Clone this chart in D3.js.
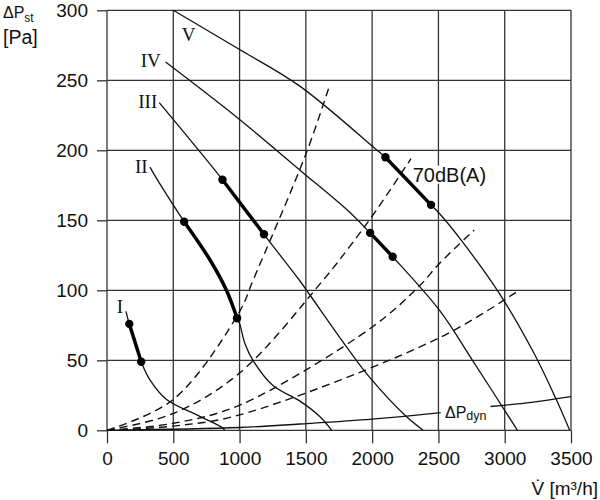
<!DOCTYPE html>
<html>
<head>
<meta charset="utf-8">
<script src="https://cdn.jsdelivr.net/npm/d3@7"></script>
<style>
  body { margin: 0; background: #fff; }
</style>
</head>
<body>
<svg id="chart" width="600" height="500"></svg>
<script>
// tick values
const xTicks = [0, 500, 1000, 1500, 2000, 2500, 3000, 3500];
const yTicks = [0, 50, 100, 150, 200, 250, 300];

// fan curves [V m3/h, dP Pa]
const fanI = [[143, 85], [168, 76], [258, 49], [324, 36], [449, 22], [700, 10], [876, 1.4], [885, 0]];
const fanII = [[324, 188], [399, 176], [582, 149], [775, 122], [901, 100], [981, 80], [1001, 76], [1040, 62], [1101, 50], [1252, 32], [1453, 21], [1603, 10], [1695, 0]];
const fanIII = [[394, 234], [871, 179], [1184, 140], [1453, 107], [1528, 97], [1804, 60], [1980, 38], [2256, 10], [2385, 0]];
const fanIV = [[442, 263], [1000, 222], [1453, 186], [1816, 157], [1985, 141], [2155, 124], [2506, 86], [2757, 50], [3096, 0]];
const fanV = [[500, 300], [1000, 272], [1452, 246], [2037, 200], [2100, 195], [2444, 161], [2506, 155], [2670, 136], [2958, 98], [3221, 55], [3384, 23], [3490, 0]];

// rated ranges (dots at both ends, thick between)
const ratedI = [[168, 76], [258, 49]];
const ratedII = [[582, 149], [981, 80]];
const ratedIII = [[871, 179], [1184, 140]];
const ratedIV = [[1985, 141], [2155, 124]];
const ratedV = [[2100, 195], [2444, 161]];

// system curves (dashed)
const sys1 = [[0, 0], [500, 22], [1001, 85], [1101, 107], [1503, 198], [1671, 244]];
const sys2 = [[0, 0], [500, 12], [1001, 41], [1628, 107], [1829, 131], [2030, 157], [2293, 194]];
const sys3 = [[0, 0], [500, 5], [1001, 18], [2004, 74], [2356, 103], [2506, 119], [2770, 143]];
const sys4 = [[0, 0], [500, 3], [1001, 11], [2506, 66], [3108, 100]];

// dynamic pressure, split where its label sits
const dynA = [[0, 0], [1000, 2], [1453, 4.5], [2000, 8], [2500, 12.5], [2517, 12.7]];
const dynB = [[2893, 17], [3200, 20], [3500, 24]];

const fanNames = ["I", "II", "III", "IV", "V"];
const fans = [fanI, fanII, fanIII, fanIV, fanV];
const rated = [ratedI, ratedII, ratedIII, ratedIV, ratedV];
const systems = [sys1, sys2, sys3, sys4];

const svg = d3.select("#chart");
const sans = "Liberation Sans, Arial, sans-serif";
const serif = "Liberation Serif, Times New Roman, serif";

const x = d3.scaleLinear().domain([0, 3500]).range([107, 571]);
const y = d3.scaleLinear().domain([0, 300]).range([430.3, 10.3]);

const lineGen = d3.line()
  .x(d => x(d[0]))
  .y(d => y(d[1]))
  .curve(d3.curveCatmullRom.alpha(0.5));

const gGrid = svg.append("g");
const gMask = svg.append("g");
const gCurves = svg.append("g");
const gText = svg.append("g");

// grid, drawn cell by cell
const gridStyle = sel => sel.attr("stroke", "#333").attr("stroke-width", 1.3);
xTicks.forEach(t => {
  d3.pairs(yTicks).forEach(([a, b2]) => {
    gGrid.append("line").attr("x1", x(t)).attr("x2", x(t))
      .attr("y1", y(a)).attr("y2", y(b2)).call(gridStyle);
  });
});
yTicks.forEach(t => {
  d3.pairs(xTicks).forEach(([a, b2]) => {
    gGrid.append("line").attr("x1", x(a)).attr("x2", x(b2))
      .attr("y1", y(t)).attr("y2", y(t)).call(gridStyle);
  });
});

// axes: outside ticks and labels
const gx = gGrid.append("g")
  .attr("transform", `translate(0,${y(0)})`)
  .call(d3.axisBottom(x).tickValues(xTicks).tickFormat(d3.format("d"))
    .tickSize(13).tickPadding(8).tickSizeOuter(0));
const gy = gGrid.append("g")
  .attr("transform", `translate(${x(0)},0)`)
  .call(d3.axisLeft(y).tickValues(yTicks).tickFormat(d3.format("d"))
    .tickSize(10).tickPadding(9).tickSizeOuter(0));
[gx, gy].forEach(g => {
  g.select(".domain").remove();
  g.selectAll(".tick line").call(gridStyle);
  g.selectAll("text").attr("font-family", sans).attr("font-size", 19).attr("fill", "#111");
});

// system curves
systems.forEach(s => {
  gCurves.append("path").attr("d", lineGen(s))
    .attr("fill", "none").attr("stroke", "#111").attr("stroke-width", 1.4)
    .attr("stroke-dasharray", "8,5");
});

// dynamic pressure
[dynA, dynB].forEach(s => {
  gCurves.append("path").attr("d", lineGen(s))
    .attr("fill", "none").attr("stroke", "#111").attr("stroke-width", 1.3);
});

// fan curves
fans.forEach((f, i) => {
  gCurves.append("path").attr("d", lineGen(f))
    .attr("fill", "none").attr("stroke", "#111").attr("stroke-width", 1.3);
  const r = rated[i];
  const seg = f.filter(d => d[0] >= r[0][0] && d[0] <= r[1][0]);
  gCurves.append("path").attr("d", lineGen(seg))
    .attr("fill", "none").attr("stroke", "#000").attr("stroke-width", 3.5);
  r.forEach(d => {
    gCurves.append("circle")
      .attr("cx", x(d[0])).attr("cy", y(d[1])).attr("r", 4.2)
      .attr("fill", "#000");
  });
});

// roman labels
const labelPos = [[116.7, 313.3], [135, 173.3], [138.3, 108.3], [140.7, 66.7], [181.7, 40.7]];
fanNames.forEach((n, i) => {
  gText.append("text").attr("x", labelPos[i][0]).attr("y", labelPos[i][1])
    .attr("font-family", serif).attr("font-size", 19).attr("fill", "#111").text(n);
});

// 70dB(A) label, with a white patch over the grid behind it
const db = gText.append("text").attr("x", 412.7).attr("y", 181.7)
  .attr("font-family", sans).attr("font-size", 20).attr("fill", "#111").text("70dB(A)");
const b = db.node().getBBox();
gMask.append("rect").attr("x", b.x + 2).attr("y", b.y + 2)
  .attr("width", b.width - 1).attr("height", b.height - 4).attr("fill", "#fff");

const dyn = gText.append("text").attr("x", 445).attr("y", 417.5)
  .attr("font-family", sans).attr("font-size", 16).attr("fill", "#111");
dyn.append("tspan").text("ΔP");
dyn.append("tspan").attr("font-size", 12.5).attr("dy", 2).text("dyn");

// axis titles
const yt = gText.append("text").attr("x", 3).attr("y", 18.3)
  .attr("font-family", sans).attr("font-size", 16).attr("fill", "#111");
yt.append("tspan").text("ΔP");
yt.append("tspan").attr("font-size", 12).attr("dy", 4).text("st");
gText.append("text").attr("x", 3).attr("y", 44)
  .attr("font-family", sans).attr("font-size", 19.5).attr("fill", "#111").text("[Pa]");

gText.append("text").attr("x", 598).attr("y", 495).attr("text-anchor", "end")
  .attr("font-family", sans).attr("font-size", 19).attr("fill", "#111").text("V\u0307 [m³/h]");
</script>
</body>
</html>
